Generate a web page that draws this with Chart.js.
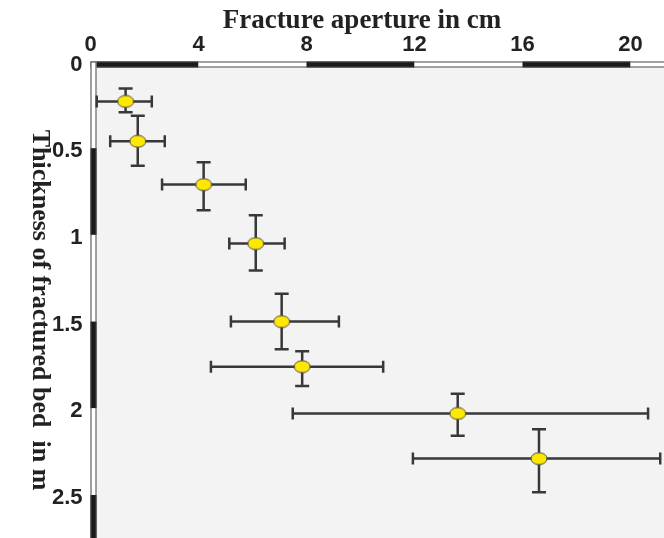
<!DOCTYPE html>
<html>
<head>
<meta charset="utf-8">
<title>Fracture aperture vs bed thickness</title>
<script src="https://cdn.jsdelivr.net/npm/chart.js@4/dist/chart.umd.min.js"></script>
<style>
  html, body { margin: 0; padding: 0; background: #ffffff; overflow: hidden; }
  #wrap { width: 664px; height: 538px; }
  canvas { display: block; }
</style>
</head>
<body>
<div id="wrap"><canvas id="chart" width="664" height="538"></canvas></div>
<script>
// values
const aperture = [1.30, 1.75, 4.19, 6.12, 7.08, 7.84, 13.60, 16.61];
const apertureLow = [0.23, 0.73, 2.65, 5.14, 5.20, 4.46, 7.49, 11.94];
const apertureHigh = [2.27, 2.75, 5.75, 7.19, 9.20, 10.84, 20.65, 21.10];

const thickness = [0.23, 0.46, 0.71, 1.05, 1.50, 1.76, 2.03, 2.29];
const thicknessLow = [0.155, 0.313, 0.581, 0.887, 1.339, 1.671, 1.916, 2.121];
const thicknessHigh = [0.293, 0.601, 0.858, 1.206, 1.660, 1.871, 2.158, 2.484];

const xTicks = [0, 4, 8, 12, 16, 20];
const yTicks = [0, 0.5, 1, 1.5, 2, 2.5];
const yTickLabels = ["0", "0.5", "1", "1.5", "2", "2.5"];

const xTitle = "Fracture aperture in cm";
const yTitle = "Thickness of fractured bed  in m";

const points = aperture.map((x, i) => ({ x: x, y: thickness[i] }));

function makeDot() {
  const c = document.createElement("canvas");
  c.width = 18;
  c.height = 14;
  const g = c.getContext("2d");
  g.beginPath();
  g.ellipse(9, 7, 8, 6, 0, 0, Math.PI * 2);
  g.fillStyle = "#ffe800";
  g.fill();
  g.strokeStyle = "#4a4a4a";
  g.lineWidth = 1;
  g.stroke();
  return c;
}

function noPadding(scale) {
  scale.paddingTop = 0;
  scale.paddingBottom = 0;
  scale.paddingLeft = 0;
  scale.paddingRight = 0;
}

// background + plot area fill
const backdrop = {
  id: "backdrop",
  beforeDraw(chart) {
    const { ctx, chartArea } = chart;
    ctx.save();
    ctx.fillStyle = "#ffffff";
    ctx.fillRect(0, 0, chart.width, chart.height);
    ctx.fillStyle = "#f3f3f3";
    ctx.fillRect(chartArea.left, chartArea.top, chartArea.right - chartArea.left, chartArea.bottom - chartArea.top);
    ctx.restore();
  }
};

// black / white scale bars along the top and left edges
const scaleBars = {
  id: "scaleBars",
  beforeDatasetsDraw(chart) {
    const { ctx, chartArea, scales } = chart;
    const t = 6;
    ctx.save();

    // top bar
    const top = chartArea.top;
    for (let i = 0; i < xTicks.length; i++) {
      const a = scales.x.getPixelForValue(xTicks[i]);
      const b = i + 1 < xTicks.length ? scales.x.getPixelForValue(xTicks[i + 1]) : chartArea.right;
      ctx.fillStyle = i % 2 === 0 ? "#1a1a1a" : "#ffffff";
      ctx.fillRect(a, top, b - a, t);
    }
    ctx.strokeStyle = "#444444";
    ctx.lineWidth = 1;
    ctx.strokeRect(chartArea.left + 0.5, top + 0.5, chartArea.right - chartArea.left, t - 1);

    // left bar
    const left = chartArea.left;
    for (let i = 0; i < yTicks.length; i++) {
      const a = scales.y.getPixelForValue(yTicks[i]);
      const b = i + 1 < yTicks.length ? scales.y.getPixelForValue(yTicks[i + 1]) : chartArea.bottom;
      ctx.fillStyle = i % 2 === 1 ? "#1a1a1a" : "#ffffff";
      ctx.fillRect(left, a, t, b - a);
    }
    ctx.strokeRect(left + 0.5, top + 0.5, t - 1, chartArea.bottom - top);

    ctx.restore();
  }
};

// error bars in both directions
const errorBars = {
  id: "errorBars",
  beforeDatasetsDraw(chart) {
    const { ctx, scales } = chart;
    const xs = scales.x;
    const ys = scales.y;
    ctx.save();
    ctx.strokeStyle = "#383838";
    ctx.lineWidth = 2.5;
    ctx.lineCap = "butt";

    aperture.forEach((v, i) => {
      const px = xs.getPixelForValue(v);
      const py = ys.getPixelForValue(thickness[i]);
      const x1 = xs.getPixelForValue(apertureLow[i]);
      const x2 = xs.getPixelForValue(apertureHigh[i]);
      const y1 = ys.getPixelForValue(thicknessLow[i]);
      const y2 = ys.getPixelForValue(thicknessHigh[i]);

      ctx.beginPath();
      ctx.moveTo(x1, py);
      ctx.lineTo(x2, py);
      ctx.moveTo(x1, py - 6);
      ctx.lineTo(x1, py + 6);
      ctx.moveTo(x2, py - 6);
      ctx.lineTo(x2, py + 6);

      ctx.moveTo(px, y1);
      ctx.lineTo(px, y2);
      ctx.moveTo(px - 7, y1);
      ctx.lineTo(px + 7, y1);
      ctx.moveTo(px - 7, y2);
      ctx.lineTo(px + 7, y2);
      ctx.stroke();
    });

    ctx.restore();
  }
};

// axis titles (the y title reads top to bottom)
const axisTitles = {
  id: "axisTitles",
  afterDraw(chart) {
    const { ctx } = chart;
    ctx.save();
    ctx.fillStyle = "#222222";
    ctx.font = "bold 27px 'Liberation Serif', 'Times New Roman', serif";
    ctx.textAlign = "center";
    ctx.textBaseline = "alphabetic";
    ctx.fillText(xTitle, 362, 28);

    ctx.translate(33, 310);
    ctx.rotate(Math.PI / 2);
    ctx.font = "bold 26px 'Liberation Serif', 'Times New Roman', serif";
    ctx.fillText(yTitle, 0, 0);
    ctx.restore();
  }
};

const tickFont = { family: "'Liberation Sans', Arial, sans-serif", size: 22, weight: "bold" };

const chart = new Chart(document.getElementById("chart"), {
  type: "scatter",
  data: {
    datasets: [
      {
        label: "Aperture",
        data: points,
        pointStyle: makeDot(),
        pointRadius: 8,
        pointHoverRadius: 8
      }
    ]
  },
  options: {
    responsive: false,
    animation: false,
    devicePixelRatio: 1,
    layout: { padding: 0, autoPadding: false },
    plugins: {
      legend: { display: false },
      tooltip: { enabled: false }
    },
    scales: {
      x: {
        type: "linear",
        position: "top",
        min: 0,
        max: 21.24,
        afterBuildTicks: (scale) => {
          scale.ticks = xTicks.map((v) => ({ value: v }));
        },
        afterFit: (scale) => {
          scale.height = 61.5;
          noPadding(scale);
        },
        grid: { display: false, drawTicks: false },
        border: { display: false },
        ticks: {
          font: tickFont,
          color: "#222222",
          padding: 3,
          maxRotation: 0,
          autoSkip: false,
          callback: (value) => String(value)
        }
      },
      y: {
        type: "linear",
        reverse: true,
        min: 0,
        max: 2.748,
        afterBuildTicks: (scale) => {
          scale.ticks = yTicks.map((v) => ({ value: v }));
        },
        afterFit: (scale) => {
          scale.width = 90.5;
          noPadding(scale);
        },
        grid: { display: false, drawTicks: false },
        border: { display: false },
        ticks: {
          font: tickFont,
          color: "#222222",
          padding: 8,
          labelOffset: 3,
          autoSkip: false,
          callback: (value, index) => yTickLabels[index]
        }
      }
    }
  },
  plugins: [backdrop, scaleBars, errorBars, axisTitles]
});
</script>
</body>
</html>
